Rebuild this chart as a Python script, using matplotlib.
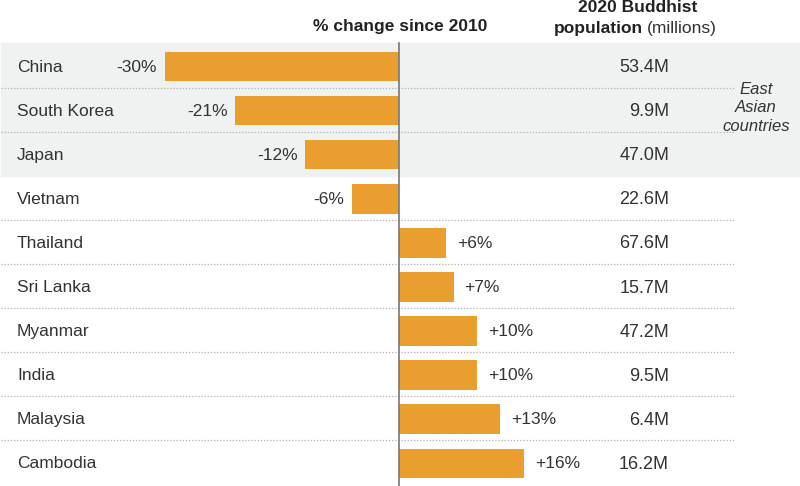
import numpy as np
import matplotlib.pyplot as plt

plt.rcParams['font.family'] = ['Liberation Sans', 'DejaVu Sans']

# Datos del gráfico
countries = ['China', 'South Korea', 'Japan', 'Vietnam', 'Thailand',
             'Sri Lanka', 'Myanmar', 'India', 'Malaysia', 'Cambodia']
pct_change = [-30, -21, -12, -6, 6, 7, 10, 10, 13, 16]
population = [53.4, 9.9, 47.0, 22.6, 67.6, 15.7, 47.2, 9.5, 6.4, 16.2]
east_asian = ['China', 'South Korea', 'Japan']

bar_color = '#E99E2F'
text_color = '#333333'

fig = plt.figure(figsize=(8, 4.86), dpi=100)
ax = fig.add_axes([0, 0, 1, 1])

# escala: 0% en x=399 px, 7.8 px por punto
px = 7.8
ax.set_xlim(-399 / px, (800 - 399) / px)
ax.set_ylim((486 - 65.55) / 44.1, -65.55 / 44.1)
ax.axis('off')

y = np.arange(len(countries))
n_east = len(east_asian)

# Fondo gris para los países de Asia oriental
ax.axhspan(-0.5, n_east - 0.5, xmin=0.001, xmax=1, color='#F0F1F1', zorder=0)

# Separadores punteados
x_end = (735 - 399) / px
x_start = (1 - 399) / px
for i in range(len(countries) - 1):
    if i == n_east - 1:
        continue
    ax.plot([x_start, x_end], [i + 0.5, i + 0.5], color='#B0B0B0',
            linestyle=(0, (1, 1.5)), linewidth=0.9, zorder=1)

ax.barh(y + 0.02, pct_change, height=0.67, color=bar_color, zorder=2)

# Línea del cero
ax.plot([0, 0], [-0.5, 9.6], color='#777777', linewidth=1.2, zorder=3)

name_x = (17 - 399) / px
val_x = (669 - 399) / px
for i, (c, p, v) in enumerate(zip(countries, pct_change, population)):
    ax.text(name_x, i, c, ha='left', va='center_baseline', fontsize=12.5,
            color=text_color)
    if p < 0:
        ax.text(p - 1.0, i, f'{p}%', ha='right', va='center_baseline',
                fontsize=12.5, color=text_color)
    else:
        ax.text(p + 1.4, i, f'+{p}%', ha='left', va='center_baseline',
                fontsize=12.5, color=text_color)
    ax.text(val_x, i, f'{v:.1f}M', ha='right', va='center_baseline', fontsize=13,
            color=text_color)

# Encabezados
fig.text(400 / 800, 1 - 27 / 486, '% change since 2010', ha='center', va='center',
         fontsize=12.5, fontweight='bold', color='#222222')
fig.text(638 / 800, 1 - 7 / 486, '2020 Buddhist', ha='center', va='center',
         fontsize=12.5, fontweight='bold', color='#222222')
fig.text(643 / 800, 1 - 29 / 486, 'population', ha='right', va='center',
         fontsize=12.5, fontweight='bold', color='#222222')
fig.text(647 / 800, 1 - 29 / 486, '(millions)', ha='left', va='center',
         fontsize=12.5, color='#333333')

fig.text(756 / 800, 1 - 108 / 486, 'East\nAsian\ncountries', ha='center',
         va='center', fontsize=12, fontstyle='italic', color=text_color,
         linespacing=1.3)

plt.savefig('out.png', dpi=100)
